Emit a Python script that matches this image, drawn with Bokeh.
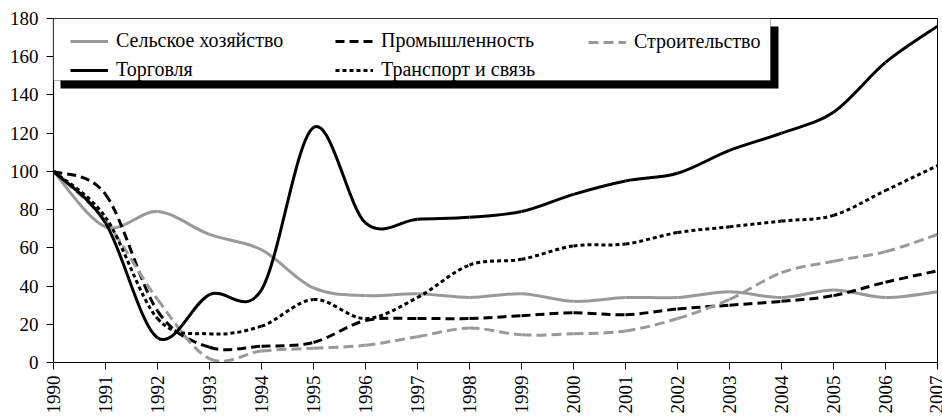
import math
from bokeh.plotting import figure
from bokeh.models import Range1d, FixedTicker, Legend, LegendItem, BoxAnnotation, ColumnDataSource
from bokeh.embed import file_html
from bokeh.resources import INLINE

# ---- data (index, 1990 = 100) ----
years = list(range(1990, 2008))
y_ticks = [0, 20, 40, 60, 80, 100, 120, 140, 160, 180]

agriculture = [100, 71, 79, 67, 59, 39, 35, 36, 34, 36, 32, 34, 34, 37, 34, 38, 34, 37]
industry = [100, 88, 27, 8, 8.5, 10.5, 22, 23, 23, 24.5, 26, 25, 28, 30, 32, 35, 42, 48]
construction = [100, 74, 33, 2, 6, 7.5, 9, 13.5, 18, 14.5, 15, 16.5, 23, 33, 47, 53, 58, 67]
trade = [100, 73, 13, 35.5, 38, 123, 73, 75, 76, 79, 88, 95, 99, 111, 120, 131, 157, 176]
transport = [100, 76, 23, 15, 19, 33, 23, 34, 51, 54, 61, 62, 68, 71, 74, 77, 90, 103]

names = ["Сельское хозяйство", "Промышленность", "Строительство", "Торговля", "Транспорт и связь"]

GRAY = "#999999"
FONT = "Liberation Serif"


def smooth_source(xs, ys):
    """Bezier segments through the data points (smoothed-line style)."""
    n = len(xs)
    d = dict(x0=[], y0=[], x1=[], y1=[], cx0=[], cy0=[], cx1=[], cy1=[])
    for i in range(n - 1):
        a = max(i - 1, 0)
        b = min(i + 2, n - 1)
        d["x0"].append(xs[i]); d["y0"].append(ys[i])
        d["x1"].append(xs[i + 1]); d["y1"].append(ys[i + 1])
        d["cx0"].append(xs[i] + (xs[i + 1] - xs[a]) / 6)
        d["cy0"].append(ys[i] + (ys[i + 1] - ys[a]) / 6)
        d["cx1"].append(xs[i + 1] - (xs[b] - xs[i]) / 6)
        d["cy1"].append(ys[i + 1] - (ys[b] - ys[i]) / 6)
    return ColumnDataSource(d)


p = figure(width=942, height=416,
           x_range=Range1d(1990, 2007), y_range=Range1d(0, 180),
           output_backend="svg", toolbar_location=None,
           min_border_left=53, min_border_right=5, min_border_top=18, min_border_bottom=51)
p.background_fill_color = "white"
p.border_fill_color = "white"
p.outline_line_color = "black"
p.outline_line_width = 1
p.xgrid.visible = False
p.ygrid.visible = False

styles = [
    (agriculture, GRAY, "solid"),
    (industry, "black", "9 5"),
    (construction, GRAY, "10 5"),
    (trade, "black", "solid"),
    (transport, "black", "4 3"),
]
renderers = []
for vals, color, dash in styles:
    r = p.bezier(x0="x0", y0="y0", x1="x1", y1="y1", cx0="cx0", cy0="cy0", cx1="cx1", cy1="cy1",
                 source=smooth_source(years, vals), line_color=color, line_width=3, line_dash=dash)
    renderers.append(r)

# axes
for ax in (p.xaxis[0], p.yaxis[0]):
    ax.axis_line_color = "black"
    ax.axis_line_width = 1.2
    ax.major_tick_line_color = "black"
    ax.major_tick_in = 0
    ax.major_tick_out = 7
    ax.minor_tick_line_color = None
    ax.major_label_text_font = FONT
    ax.major_label_text_font_size = "19px"
    ax.major_label_text_color = "black"
p.xaxis.ticker = FixedTicker(ticks=years)
p.yaxis.ticker = FixedTicker(ticks=y_ticks)
p.xaxis.major_label_orientation = math.pi / 2
p.xaxis.major_label_standoff = 6
p.yaxis.major_label_standoff = 8

# legend frame with shadow
shadow = BoxAnnotation(left=60, right=778, top=26, bottom=88,
                       left_units="canvas", right_units="canvas", top_units="canvas", bottom_units="canvas",
                       fill_color="black", fill_alpha=1, line_color=None)
box = BoxAnnotation(left=53, right=770, top=18, bottom=80,
                    left_units="canvas", right_units="canvas", top_units="canvas", bottom_units="canvas",
                    fill_color="white", fill_alpha=1, line_color="black", line_width=1)
p.add_layout(shadow)
p.add_layout(box)


def make_legend(idx, loc):
    items = [LegendItem(label=names[i], renderers=[renderers[i]]) for i in idx]
    return Legend(items=items, location=loc, orientation="vertical",
                  padding=0, margin=0, spacing=6,
                  glyph_width=38, glyph_height=22, label_height=22, label_standoff=8,
                  label_text_font=FONT, label_text_font_size="20px", label_text_color="black",
                  border_line_color=None, background_fill_alpha=0)


p.add_layout(make_legend([0, 3], (17, 281)))
p.add_layout(make_legend([1, 4], (282, 281)))
p.add_layout(make_legend([2], (535, 309)))

open("out.html", "w").write(file_html(p, INLINE))
